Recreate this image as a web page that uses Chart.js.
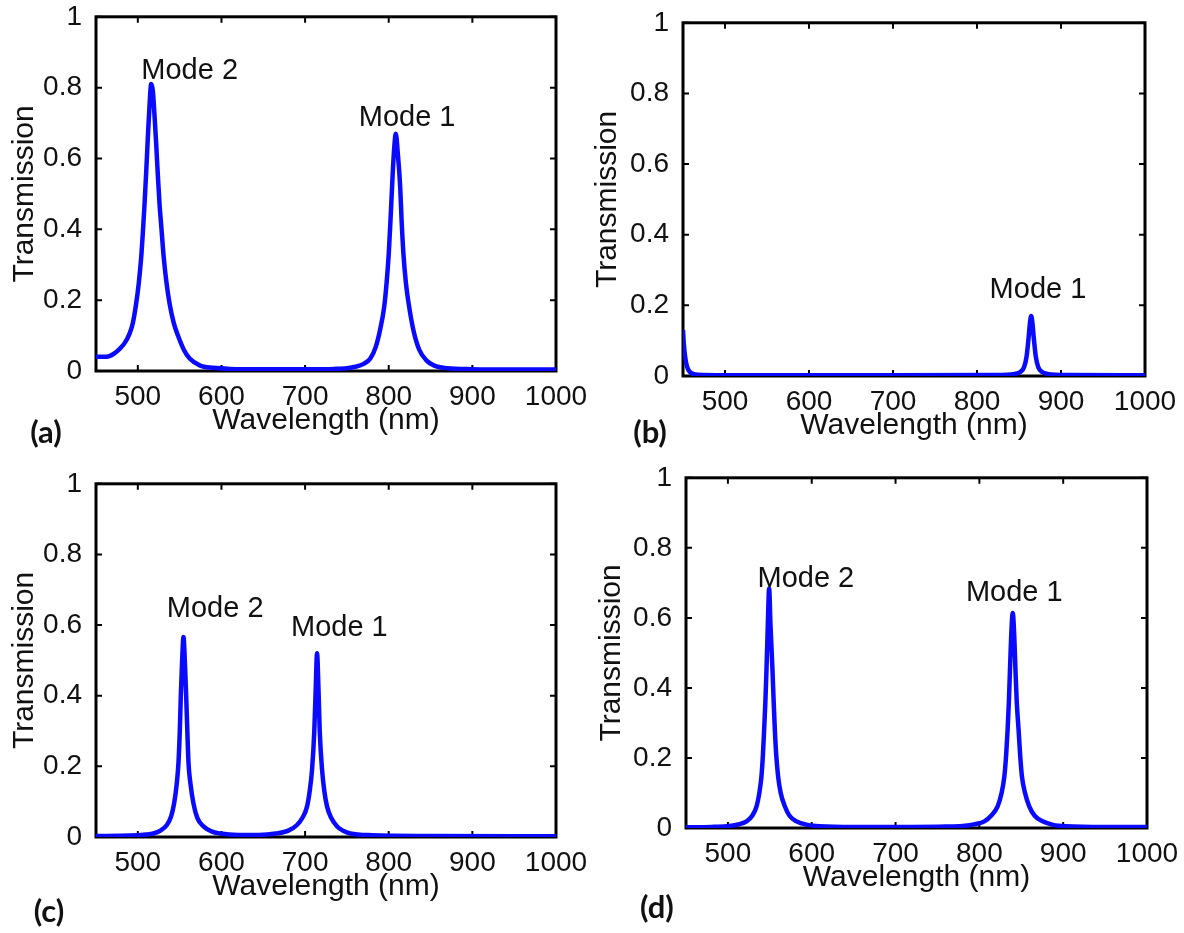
<!DOCTYPE html>
<html>
<head>
<meta charset="utf-8">
<script src="https://cdn.jsdelivr.net/npm/chart.js@4.4.1/dist/chart.umd.min.js"></script>
<style>
body{margin:0;background:#fff;width:1184px;height:933px;position:relative;overflow:hidden}
.panel{position:absolute}
.tag{position:absolute;font:bold 31px Lato,"Open Sans",sans-serif;color:#111;transform:translate(-50%,-50%)}
</style>
</head>
<body>
<div class="panel" style="left:0;top:-6px;width:590px;height:451px"><canvas id="ca"></canvas></div>
<div class="panel" style="left:590px;top:0;width:594px;height:450px"><canvas id="cb"></canvas></div>
<div class="panel" style="left:0;top:461px;width:590px;height:450px"><canvas id="cc"></canvas></div>
<div class="panel" style="left:590px;top:455px;width:594px;height:447px"><canvas id="cd"></canvas></div>
<div class="tag" style="left:46px;top:431px">(a)</div>
<div class="tag" style="left:650px;top:431px">(b)</div>
<div class="tag" style="left:49px;top:910px">(c)</div>
<div class="tag" style="left:657px;top:906px">(d)</div>
<script>
var xTicks = [500, 600, 700, 800, 900, 1000];
var yTicks = [0, 0.2, 0.4, 0.6, 0.8, 1];

// (a)
var aWave = [450, 460, 466, 472, 478, 484, 490, 494, 498, 501, 504, 506, 508, 510, 512, 514, 516, 518, 520, 522, 524, 526, 528, 531, 534, 538, 543, 548, 555, 562, 574, 590, 610, 650, 700, 735, 750, 760, 770, 778, 784.5, 790, 794.5, 797.5, 800, 802, 804, 806, 808.5, 811, 813.7, 815.5, 817.6, 820.5, 824.5, 830, 836.5, 845, 854.5, 870, 900, 950, 1000];
var aTrans = [0.04, 0.04, 0.042, 0.05, 0.062, 0.078, 0.105, 0.135, 0.19, 0.245, 0.32, 0.39, 0.47, 0.56, 0.66, 0.75, 0.81, 0.79, 0.72, 0.64, 0.55, 0.47, 0.41, 0.32, 0.255, 0.19, 0.135, 0.1, 0.06, 0.035, 0.016, 0.009, 0.006, 0.005, 0.005, 0.006, 0.008, 0.012, 0.02, 0.035, 0.068, 0.12, 0.18, 0.25, 0.33, 0.42, 0.52, 0.61, 0.67, 0.61, 0.52, 0.42, 0.33, 0.25, 0.18, 0.11, 0.06, 0.03, 0.015, 0.008, 0.005, 0.004, 0.004];
var aLabels = ["Mode 2", "Mode 1"];
var aLabelX = [562, 822];
var aLabelY = [0.825, 0.693];

// (b)
var bWave = [450, 451, 452.5, 455, 458, 463, 475, 550, 700, 820, 845, 852, 856, 859, 861.5, 863, 864.5, 866, 867.5, 870, 873, 877, 884, 910, 1000];
var bTrans = [0.13, 0.09, 0.055, 0.025, 0.012, 0.005, 0.003, 0.002, 0.002, 0.003, 0.006, 0.012, 0.025, 0.055, 0.11, 0.15, 0.17, 0.15, 0.11, 0.055, 0.025, 0.012, 0.006, 0.003, 0.002];
var bLabels = ["Mode 1"];
var bLabelX = [872.6];
var bLabelY = [0.22];

// (c)
var cWave = [450, 490, 510, 518.6, 527, 534.7, 540, 543.4, 546.5, 548.6, 550.2, 551.4, 553, 554.6, 556.2, 557.8, 559.2, 560.6, 563, 566.5, 571, 578.5, 588, 598.5, 620, 645, 665, 680, 690.3, 697, 702.3, 705.5, 708.3, 711, 712.7, 714.3, 716, 717.5, 720.3, 723, 726.3, 731, 738.3, 746, 754, 780, 850, 1000];
var cTrans = [0.003, 0.004, 0.007, 0.01, 0.018, 0.034, 0.06, 0.095, 0.15, 0.21, 0.3, 0.4, 0.5, 0.566, 0.5, 0.4, 0.3, 0.21, 0.15, 0.095, 0.055, 0.03, 0.016, 0.01, 0.006, 0.006, 0.01, 0.018, 0.034, 0.055, 0.086, 0.13, 0.19, 0.3, 0.42, 0.52, 0.42, 0.3, 0.19, 0.13, 0.086, 0.055, 0.03, 0.017, 0.01, 0.005, 0.003, 0.002];
var cLabels = ["Mode 2", "Mode 1"];
var cLabelX = [592.5, 741];
var cLabelY = [0.622, 0.57];

// (d)
var dWave = [450, 480, 498.5, 512, 522.3, 529, 534.2, 537.5, 540, 541.8, 543.2, 544.7, 546, 547.6, 549.2, 550.8, 553.2, 554.6, 556, 557.6, 559.9, 563, 567.9, 573.5, 581.8, 595, 609.5, 650, 720, 760, 780, 795, 806, 814, 821.8, 826.5, 829.8, 832, 833.7, 835.2, 836.5, 838, 839.8, 841.6, 843.1, 844.6, 846.8, 848.6, 850.8, 854.5, 859.5, 866, 875.4, 888, 903, 950, 1000];
var dTrans = [0.002, 0.003, 0.005, 0.01, 0.019, 0.035, 0.062, 0.1, 0.147, 0.21, 0.28, 0.36, 0.45, 0.58, 0.684, 0.58, 0.45, 0.36, 0.28, 0.21, 0.147, 0.1, 0.062, 0.035, 0.019, 0.009, 0.005, 0.003, 0.003, 0.004, 0.006, 0.011, 0.019, 0.035, 0.062, 0.1, 0.147, 0.21, 0.28, 0.36, 0.45, 0.55, 0.614, 0.55, 0.45, 0.36, 0.28, 0.21, 0.147, 0.1, 0.062, 0.035, 0.019, 0.009, 0.005, 0.003, 0.003];
var dLabels = ["Mode 2", "Mode 1"];
var dLabelX = [593, 841.7];
var dLabelY = [0.688, 0.648];

var F = '"Liberation Sans", Arial, sans-serif';
var INK = '#111';

// box frame with inward ticks, plus the mode labels
var framePlugin = {
  id: 'frame',
  beforeDatasetsDraw: function(chart) {
    var c = chart.ctx, a = chart.chartArea, sx = chart.scales.x, sy = chart.scales.y;
    c.save();
    c.strokeStyle = '#000';
    c.lineWidth = 3;
    c.strokeRect(a.left, a.top, a.right - a.left, a.bottom - a.top);
    c.lineWidth = 2;
    c.beginPath();
    sx.ticks.forEach(function(t) {
      var p = sx.getPixelForValue(t.value);
      c.moveTo(p, a.bottom); c.lineTo(p, a.bottom - 6);
      c.moveTo(p, a.top); c.lineTo(p, a.top + 6);
    });
    sy.ticks.forEach(function(t) {
      var p = sy.getPixelForValue(t.value);
      c.moveTo(a.left, p); c.lineTo(a.left + 6, p);
      c.moveTo(a.right, p); c.lineTo(a.right - 6, p);
    });
    c.stroke();
    c.restore();
  },
  afterDatasetsDraw: function(chart, args, opts) {
    var c = chart.ctx, sx = chart.scales.x, sy = chart.scales.y;
    c.save();
    c.fillStyle = INK;
    c.font = '29px ' + F;
    c.textAlign = 'center';
    c.textBaseline = 'alphabetic';
    opts.text.forEach(function(s, i) {
      c.fillText(s, sx.getPixelForValue(opts.x[i]), sy.getPixelForValue(opts.y[i]));
    });
    c.restore();
  }
};

function makePanel(id, wave, trans, labels, lx, ly, yWidth, titlePad, pad) {
  var pts = wave.map(function(w, i) { return {x: w, y: trans[i]}; });
  new Chart(document.getElementById(id), {
    type: 'line',
    data: {
      datasets: [{
        data: pts,
        borderColor: '#0a0aff',
        borderWidth: 4.5,
        pointRadius: 0,
        fill: false,
        cubicInterpolationMode: 'monotone'
      }]
    },
    options: {
      responsive: true,
      maintainAspectRatio: false,
      devicePixelRatio: 1,
      animation: false,
      layout: {padding: pad},
      plugins: {
        legend: {display: false},
        tooltip: {enabled: false},
        frame: {text: labels, x: lx, y: ly}
      },
      scales: {
        x: {
          type: 'linear', min: 450, max: 1000,
          afterBuildTicks: function(s) { s.ticks = xTicks.map(function(v) { return {value: v}; }); },
          afterFit: function(s) { s.height = 74; },
          grid: {display: false},
          border: {display: false},
          ticks: {color: INK, font: {size: 28, family: F}, padding: 1, maxRotation: 0, autoSkip: false,
                  callback: function(v) { return String(v); }},
          title: {display: true, text: 'Wavelength (nm)', color: INK, font: {size: 30, family: F},
                  padding: {top: 0, bottom: 6}}
        },
        y: {
          type: 'linear', min: 0, max: 1,
          afterBuildTicks: function(s) { s.ticks = yTicks.map(function(v) { return {value: v}; }); },
          afterFit: function(s) { s.width = yWidth; },
          grid: {display: false},
          border: {display: false},
          ticks: {color: INK, font: {size: 28, family: F}, padding: 6, autoSkip: false,
                  callback: function(v) { return String(v); }},
          title: {display: true, text: 'Transmission', color: INK, font: {size: 30, family: F},
                  padding: {top: titlePad, bottom: 0}}
        }
      }
    },
    plugins: [framePlugin]
  });
}

makePanel('ca', aWave, aTrans, aLabels, aLabelX, aLabelY, 96, 7, {top: 22, right: 34, left: 0, bottom: 0});
makePanel('cb', bWave, bTrans, bLabels, bLabelX, bLabelY, 93, 0, {top: 22, right: 39, left: 0, bottom: 0});
makePanel('cc', cWave, cTrans, cLabels, cLabelX, cLabelY, 96, 7, {top: 22, right: 34, left: 0, bottom: 0});
makePanel('cd', dWave, dTrans, dLabels, dLabelX, dLabelY, 96, 4, {top: 22, right: 37, left: 0, bottom: 0});
</script>
</body>
</html>
